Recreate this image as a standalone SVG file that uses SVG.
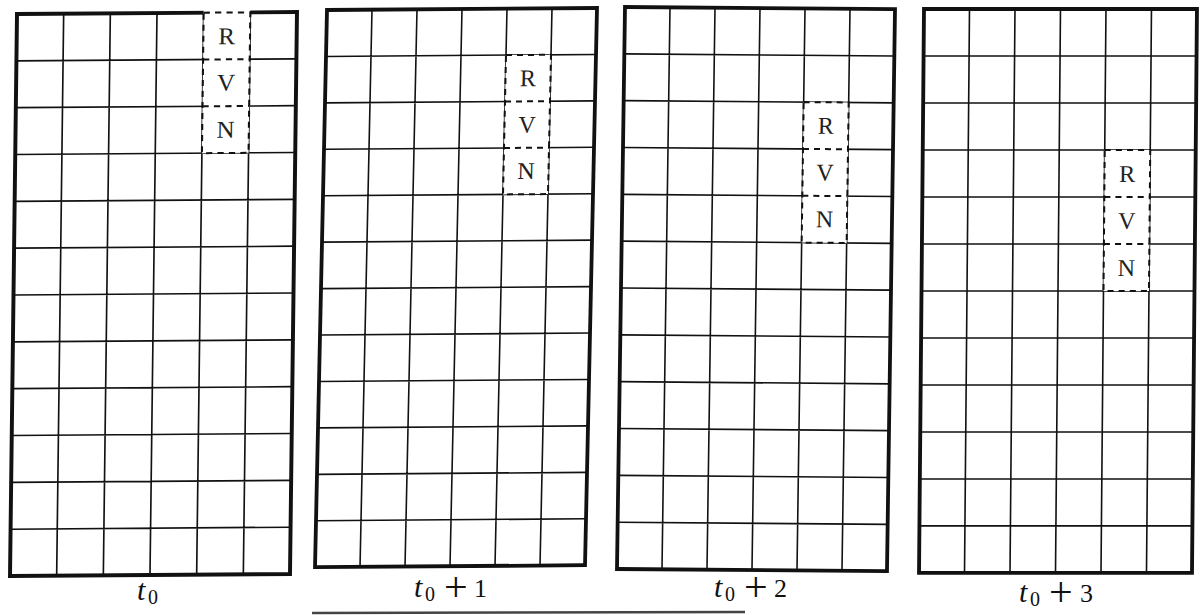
<svg xmlns="http://www.w3.org/2000/svg" xmlns:xlink="http://www.w3.org/1999/xlink" width="1200" height="615" viewBox="0 0 1200 615">
<style>
.border{fill:none;stroke:#111;stroke-width:3.8;stroke-linejoin:miter}
.grid{fill:none;stroke:#111;stroke-width:1.6}
.blank{fill:#fff;stroke:none}
.dash{fill:none;stroke:#111;stroke-width:2;stroke-dasharray:6 5}
.cell{font-family:"Liberation Serif","DejaVu Serif",serif;font-size:24px;fill:#222;text-anchor:middle}
.lab{font-family:"Liberation Serif","DejaVu Serif",serif;fill:#111}
.it{font-style:italic;font-size:30px}
.sub{font-size:20px}
.op{font-size:42px}
.num{font-size:26px}
</style>
<defs>
<path id="lines" class="grid" d="M45 0V560M90 0V560M135 0V560M180 0V560M225 0V560M0 46.67H270M0 93.33H270M0 140H270M0 186.67H270M0 233.33H270M0 280H270M0 326.67H270M0 373.33H270M0 420H270M0 466.67H270M0 513.33H270"/>
</defs>
<rect width="1200" height="615" fill="#fff"/>

<g id="grid-t0" transform="matrix(1.037,-0.0074,-0.0125,1.0036,17,14)">
<rect class="border" x="0" y="0" width="270" height="560"/>
<use xlink:href="#lines"/>
<rect class="blank" x="180" y="-3" width="45" height="143"/>
<rect class="dash" x="180" y="0" width="45" height="140"/>
<path class="dash" d="M180 46.67H225M180 93.33H225"/>
<text class="cell" x="202.5" y="31.5">R</text>
<text class="cell" x="202.5" y="78">V</text>
<text class="cell" x="202.5" y="124.7">N</text>
</g>

<g id="grid-t1" transform="matrix(1,-0.0074,-0.0214,0.995,327,10)">
<rect class="border" x="0" y="0" width="270" height="560"/>
<use xlink:href="#lines"/>
<rect class="blank" x="180" y="46.67" width="45" height="140"/>
<rect class="dash" x="180" y="46.67" width="45" height="140"/>
<path class="dash" d="M180 93.33H225M180 140H225"/>
<text class="cell" x="202.5" y="78.2">R</text>
<text class="cell" x="202.5" y="124.7">V</text>
<text class="cell" x="202.5" y="171.4">N</text>
</g>

<g id="grid-t2" transform="matrix(1,0.008,-0.0143,1.0036,625,7)">
<rect class="border" x="0" y="0" width="270" height="560"/>
<use xlink:href="#lines"/>
<rect class="blank" x="180" y="93.33" width="45" height="140"/>
<rect class="dash" x="180" y="93.33" width="45" height="140"/>
<path class="dash" d="M180 140H225M180 186.67H225"/>
<text class="cell" x="202.5" y="124.8">R</text>
<text class="cell" x="202.5" y="171.4">V</text>
<text class="cell" x="202.5" y="218">N</text>
</g>

<g id="grid-t3" transform="matrix(1.011,0,-0.0089,1.007,924,9)">
<rect class="border" x="0" y="0" width="270" height="560"/>
<use xlink:href="#lines"/>
<rect class="blank" x="180" y="140" width="45" height="140"/>
<rect class="dash" x="180" y="140" width="45" height="140"/>
<path class="dash" d="M180 186.67H225M180 233.33H225"/>
<text class="cell" x="202.5" y="171.5">R</text>
<text class="cell" x="202.5" y="218">V</text>
<text class="cell" x="202.5" y="264.7">N</text>
</g>

<g id="labels" class="lab">
<text x="137" y="600"><tspan class="it">t</tspan><tspan class="sub" x="148" dy="4">0</tspan></text>
<text x="414" y="597"><tspan class="it">t</tspan><tspan class="sub" x="425" dy="4">0</tspan><tspan class="op" x="444" dy="-0.5">+</tspan><tspan class="num" x="474" dy="-3.5">1</tspan></text>
<text x="714" y="597"><tspan class="it">t</tspan><tspan class="sub" x="725" dy="4">0</tspan><tspan class="op" x="744" dy="-0.5">+</tspan><tspan class="num" x="774" dy="-3.5">2</tspan></text>
<text x="1019" y="602"><tspan class="it">t</tspan><tspan class="sub" x="1030" dy="4">0</tspan><tspan class="op" x="1049" dy="-0.5">+</tspan><tspan class="num" x="1080" dy="-3.5">3</tspan></text>
</g>

<line x1="312" y1="613" x2="745" y2="612" stroke="#444" stroke-width="2.5"/>
</svg>
